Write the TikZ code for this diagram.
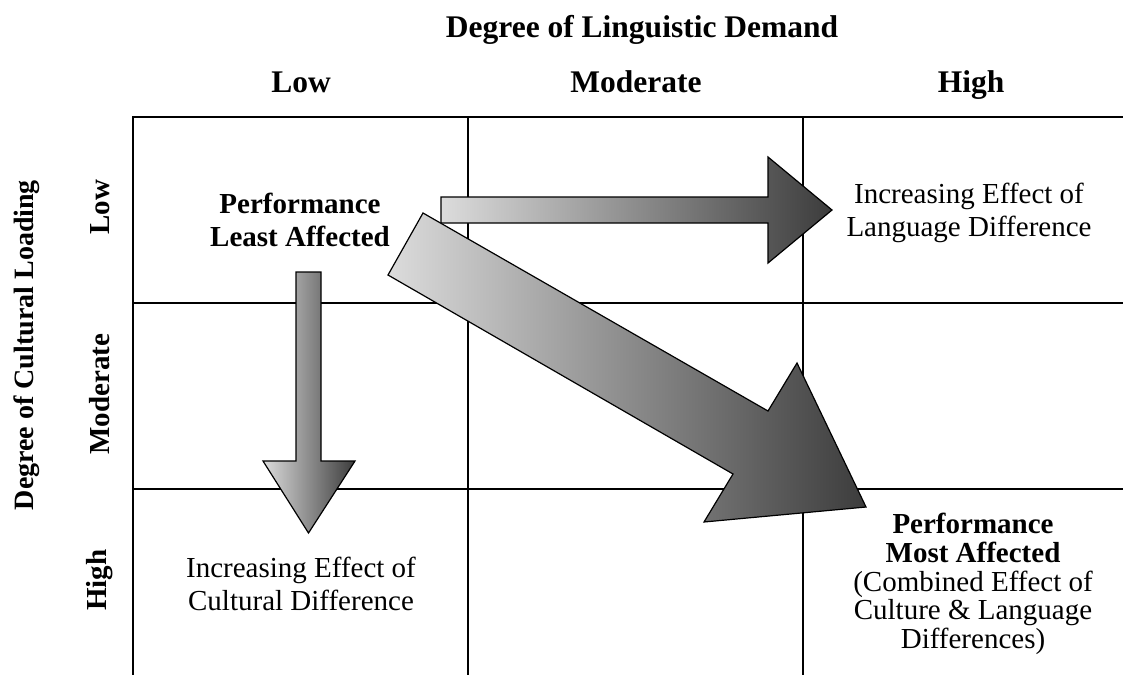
\documentclass[tikz,border=0pt]{standalone}
\usepackage{fontspec}
\setmainfont{Liberation Serif}
\newcommand{\mlines}[1]{\begin{tabular}[t]{@{}c@{}}#1\end{tabular}}
\definecolor{lightg}{HTML}{DCDCDC}
\definecolor{darkg}{HTML}{3C3C3C}
\begin{document}
\begin{tikzpicture}[x=1pt,y=-1pt,
  gridline/.style={line width=1.9pt,black},
  topline/.style={line width=2.4pt,black},
  head/.style={font=\fontsize{31.5}{36}\selectfont\bfseries,inner sep=0pt,anchor=base},
  rowlab/.style={font=\fontsize{29}{33}\selectfont\bfseries,inner sep=0pt,rotate=90,anchor=center},
  body/.style={font=\fontsize{29}{33}\selectfont,inner sep=0pt,anchor=base},
  bodyb/.style={font=\fontsize{29}{33}\selectfont\bfseries,inner sep=0pt,anchor=base},
  tight/.style={font=\fontsize{29}{28.8}\selectfont,inner sep=0pt,anchor=base},
  bigarrow/.style={draw=black,line width=1.2pt,line join=miter,left color=lightg,right color=darkg}]
\useasboundingbox (0,0) rectangle (1123,675);
% grid
\coordinate (g00) at (132,117);
\coordinate (gR0) at (1123,117);
\draw[topline] (g00) -- (gR0);
\coordinate (h1a) at (133,303); \coordinate (h1b) at (1123,303);
\coordinate (h2a) at (133,489); \coordinate (h2b) at (1123,489);
\draw[gridline] (h1a) -- (h1b);
\draw[gridline] (h2a) -- (h2b);
\coordinate (v0a) at (133,116); \coordinate (v0b) at (133,675);
\coordinate (v1a) at (468,116); \coordinate (v1b) at (468,675);
\coordinate (v2a) at (803,116); \coordinate (v2b) at (803,675);
\draw[gridline] (v0a) -- (v0b);
\draw[gridline] (v1a) -- (v1b);
\draw[gridline] (v2a) -- (v2b);
% headings
\node[head] (xtitle) at (642,37) {Degree of Linguistic Demand};
\node[head] (xlow) at (301,92) {Low};
\node[head] (xmod) at (636,92) {Moderate};
\node[head] (xhigh) at (971,92) {High};
\node[rowlab,font=\fontsize{28}{32}\selectfont\bfseries] (ytitle) at (27,345) {Degree of Cultural Loading};
\node[rowlab] (ylow) at (100,207) {Low};
\node[rowlab] (ymod) at (100,394) {Moderate};
\node[rowlab] (yhigh) at (100,580) {High};
% cell texts
\node[bodyb] (least) at (300,213) {\mlines{Performance\\Least Affected}};
\node[body] (lang) at (969,203) {\mlines{Increasing Effect of\\Language Difference}};
\node[body] (cult) at (301,577) {\mlines{Increasing Effect of\\Cultural Difference}};
\node[tight] (most) at (973,533) {\mlines{\bfseries Performance\\\bfseries Most Affected\\(Combined Effect of\\Culture \& Language\\Differences)}};
% arrows
\coordinate (ra1) at (441,197); \coordinate (ra2) at (768,197); \coordinate (ra3) at (768,157);
\coordinate (ra4) at (832,210); \coordinate (ra5) at (768,263); \coordinate (ra6) at (768,223);
\coordinate (ra7) at (441,223);
\path[bigarrow] (ra1) -- (ra2) -- (ra3) -- (ra4) -- (ra5) -- (ra6) -- (ra7) -- cycle;
\coordinate (da1) at (296,272); \coordinate (da2) at (321,272); \coordinate (da3) at (321,461);
\coordinate (da4) at (355,461); \coordinate (da5) at (308.5,533); \coordinate (da6) at (263,461);
\coordinate (da7) at (296,461);
\path[bigarrow] (da1) -- (da2) -- (da3) -- (da4) -- (da5) -- (da6) -- (da7) -- cycle;
\coordinate (ga1) at (423,213); \coordinate (ga2) at (768,411); \coordinate (ga3) at (797,363);
\coordinate (ga4) at (866,507); \coordinate (ga5) at (704,522); \coordinate (ga6) at (733,474);
\coordinate (ga7) at (388,275);
\path[bigarrow] (ga1) -- (ga2) -- (ga3) -- (ga4) -- (ga5) -- (ga6) -- (ga7) -- cycle;
\end{tikzpicture}
\end{document}
